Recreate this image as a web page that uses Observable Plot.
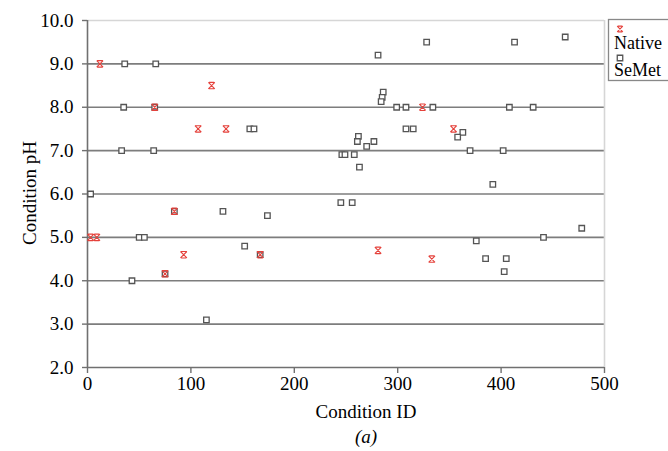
<!DOCTYPE html>
<html><head><meta charset="utf-8">
<script src="https://cdn.jsdelivr.net/npm/d3@7"></script>
<script src="https://cdn.jsdelivr.net/npm/@observablehq/plot@0.6"></script>
<style>body{margin:0;background:#fff} #chart{width:668px;height:451px;overflow:hidden}
#chart svg, #chart svg text{font-family:'Liberation Serif','Times New Roman',serif !important}</style>
</head><body><div id="chart"></div>
<script>
const nativeID = [12, 65, 120, 107, 134, 3, 9, 84, 93, 75, 167, 281, 324, 354, 333];
const nativePH = [9.0, 8.0, 8.5, 7.5, 7.5, 5.0, 5.0, 5.6, 4.6, 4.16, 4.6, 4.7, 8.0, 7.5, 4.5];
const semetID = [36, 66, 35, 65, 33, 64, 3, 84, 131, 50, 55, 75, 43, 115, 157, 161, 174, 152, 167,
  245, 256, 281, 328, 286, 285, 284, 299, 308, 334, 308, 315, 363, 358, 262, 261, 277, 270,
  246, 249, 258, 263, 370, 402, 413, 462, 408, 431, 392, 478, 441, 376, 385, 405, 403];
const semetPH = [9.0, 9.0, 8.0, 8.0, 7.0, 7.0, 6.0, 5.6, 5.6, 5.0, 5.0, 4.16, 4.0, 3.1, 7.5, 7.5, 5.5, 4.8, 4.6,
  5.8, 5.8, 9.2, 9.5, 8.35, 8.23, 8.13, 8.0, 8.0, 8.0, 7.5, 7.5, 7.42, 7.31, 7.33, 7.21, 7.21, 7.1,
  6.91, 6.91, 6.91, 6.62, 7.0, 7.0, 9.5, 9.62, 8.0, 8.0, 6.22, 5.21, 5.0, 4.92, 4.51, 4.51, 4.21];
const xTicks = [0, 100, 200, 300, 400, 500];
const yTicks = [2, 3, 4, 5, 6, 7, 8, 9, 10];
const gridPH = [3, 4, 5, 6, 7, 8, 9];
const seriesNames = ["Native", "SeMet"];

const native = nativeID.map((x, i) => ({x, y: nativePH[i]}));
const semet = semetID.map((x, i) => ({x, y: semetPH[i]}));
const FONT = "'Liberation Serif', 'Times New Roman', serif";
const RED = "#e5413b";

// Excel-style "x" marker with short caps top and bottom
const capX = {
  draw(context, size) {
    const s = Math.sqrt(size) / 1.65;
    context.moveTo(-s, -s); context.lineTo(s, s);
    context.moveTo(-s, s); context.lineTo(s, -s);
    context.moveTo(-s * 0.8, -s); context.lineTo(s * 0.8, -s);
    context.moveTo(-s * 0.8, s); context.lineTo(s * 0.8, s);
  }
};

const plot = Plot.plot({
  width: 668, height: 451,
  marginLeft: 87, marginRight: 64, marginTop: 20, marginBottom: 84,
  style: {fontFamily: FONT, fontSize: "18px", color: "#000", background: "#fff"},
  x: {domain: [0, 500]},
  y: {domain: [2, 10]},
  marks: [
    Plot.ruleY(gridPH, {stroke: "#7d7d7d", strokeWidth: 1.6}),
    Plot.ruleY([10], {stroke: "#d6d6d6", strokeWidth: 1.6}),
    Plot.ruleX([500], {stroke: "#d6d6d6", strokeWidth: 1.6}),
    Plot.ruleY([2], {stroke: "#707070", strokeWidth: 1.6}),
    Plot.ruleX([0], {stroke: "#707070", strokeWidth: 1.6}),
    Plot.axisX(xTicks, {tickSize: 6, tickPadding: 3, stroke: "#707070", strokeWidth: 1.4, fill: "#000", fontSize: 19, fontFamily: FONT, label: null}),
    Plot.axisY(yTicks, {tickSize: 5, tickPadding: 9, tickFormat: d => d.toFixed(1), stroke: "#707070", strokeWidth: 1.4, fill: "#000", fontSize: 19, fontFamily: FONT, label: null}),
    Plot.dot(semet, {x: "x", y: "y", symbol: "square", r: 3.1, stroke: "#555", strokeWidth: 1.3, fill: "white"}),
    Plot.dot(native, {x: "x", y: "y", symbol: capX, r: 3.0, stroke: RED, strokeWidth: 1.1, fill: "none"})
  ]
});
document.getElementById("chart").appendChild(plot);

const svg = d3.select(plot);
svg.append("text").attr("x", 366).attr("y", 418).attr("text-anchor", "middle")
  .attr("font-family", FONT).attr("font-size", 19).attr("fill", "#000").text("Condition ID");
svg.append("text").attr("x", 366).attr("y", 443).attr("text-anchor", "middle")
  .attr("font-family", FONT).attr("font-size", 19).attr("font-style", "italic").attr("fill", "#000").text("(a)");
svg.append("text").attr("transform", "translate(29,193) rotate(-90)").attr("text-anchor", "middle")
  .attr("dominant-baseline", "central")
  .attr("font-family", FONT).attr("font-size", 19).attr("fill", "#000").text("Condition pH");

const lg = svg.append("g");
lg.append("rect").attr("x", 608.5).attr("y", 19.5).attr("width", 80).attr("height", 61)
  .attr("fill", "white").attr("stroke", "#888").attr("stroke-width", 1.3);
lg.append("path").attr("d", d3.symbol(capX, 22)()).attr("transform", "translate(620,29)")
  .attr("stroke", RED).attr("stroke-width", 1.1).attr("fill", "none");
lg.append("text").attr("x", 614).attr("y", 49).attr("text-anchor", "start")
  .attr("font-family", FONT).attr("font-size", 18).attr("fill", "#000").text(seriesNames[0]);
lg.append("path").attr("d", d3.symbol(d3.symbolSquare, 30)()).attr("transform", "translate(620,58)")
  .attr("stroke", "#555").attr("stroke-width", 1.3).attr("fill", "white");
lg.append("text").attr("x", 614).attr("y", 76).attr("text-anchor", "start")
  .attr("font-family", FONT).attr("font-size", 18).attr("fill", "#000").text(seriesNames[1]);
</script>
</body></html>
